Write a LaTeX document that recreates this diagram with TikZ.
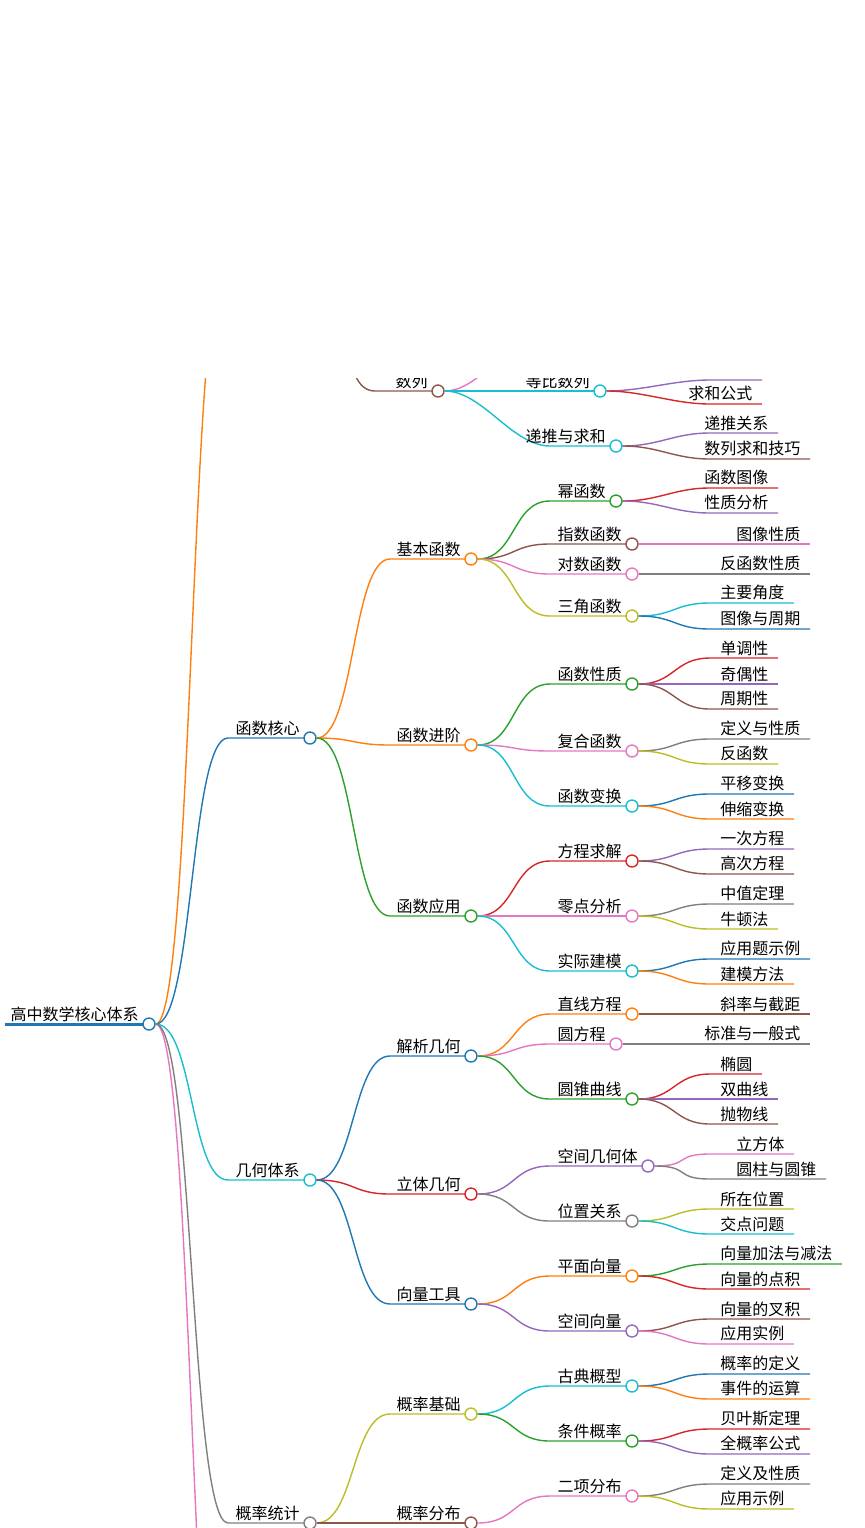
\documentclass[tikz,border=0pt]{standalone}
\usepackage{fontspec}
\setmainfont{Noto Sans CJK SC}
\usetikzlibrary{positioning}
\definecolor{cblue}{HTML}{1F77B4}
\definecolor{corange}{HTML}{FF7F0E}
\definecolor{cgreen}{HTML}{2CA02C}
\definecolor{cred}{HTML}{D62728}
\definecolor{cpurple}{HTML}{9467BD}
\definecolor{cbrown}{HTML}{8C564B}
\definecolor{cpink}{HTML}{E377C2}
\definecolor{cgray}{HTML}{7F7F7F}
\definecolor{colive}{HTML}{BCBD22}
\definecolor{ccyan}{HTML}{17BECF}
\tikzset{
  edge/.style={line width=0.7pt},
  dot/.style={circle,fill=white,line width=0.7pt,minimum size=6pt,inner sep=0pt},
  lbl/.style={anchor=south east,inner sep=1pt,font=\fontsize{8}{9}\selectfont}
}
% name, parent, line start x, y, circle x, colour, text
\newcommand{\mmnode}[7]{%
  \draw[edge,#6] (#2.east) .. controls +(38,0) and +(-38,0) .. (#3,#4) -- (#5,#4);
  \node[dot,draw=#6] (#1) at (#5,#4) {};
  \node[lbl] (#1-t) at (#5-8,#4) {#7};}
% parent, y, line end x, colour, text
\newcommand{\mmleaf}[5]{%
  \draw[edge,#4] (#1.east) .. controls +(36,0) and +(-36,0) .. (710,#2) -- (#3,#2)
    node[lbl,text=black,pos=1,xshift=-3.5pt] {#5};}
\begin{document}
\begin{tikzpicture}[x=0.5pt,y=-0.5pt]
\useasboundingbox (0,0) rectangle (864,1528);
\begin{scope}
\clip (0,378) rectangle (864,1528);
% root
\draw[cblue,line width=1.5pt] (5,1024) -- (149,1024);
\node[dot,draw=cblue] (root) at (149,1024) {};
\node[lbl] (root-t) at (141,1024) {高中数学核心体系};
% offscreen branches
\coordinate (top) at (228,250);
\draw[edge,corange] (root.east) .. controls +(38,0) and +(-38,0) .. (top) -- (310,250);
\node[dot,draw=corange] (alg) at (310,290) {};
\coordinate (down) at (228,1820);
\draw[edge,cpink] (root.east) .. controls +(38,0) and +(-38,0) .. (down);
% algebra remains
\mmnode{seq}{alg}{375}{391}{438}{cbrown}{数列}
\draw[edge,cpink] (seq.east) .. controls +(38,0) and +(-38,0) .. (550,330);
\mmnode{geo}{seq}{550}{391}{600}{ccyan}{等比数列}
\mmleaf{geo}{380}{762}{cpurple}{}
\mmleaf{geo}{404}{762}{cred}{求和公式}
\mmnode{rec}{seq}{550}{446}{616}{ccyan}{递推与求和}
\mmleaf{rec}{433}{778}{cpurple}{递推关系}
\mmleaf{rec}{459}{810}{cbrown}{数列求和技巧}
% functions
\mmnode{fun}{root}{228}{738}{310}{cblue}{函数核心}
\mmnode{basic}{fun}{390}{559}{471}{corange}{基本函数}
\mmnode{pow}{basic}{550}{501}{616}{cgreen}{幂函数}
\mmleaf{pow}{488}{778}{cred}{函数图像}
\mmleaf{pow}{513}{778}{cpurple}{性质分析}
\mmnode{expf}{basic}{550}{544}{632}{cbrown}{指数函数}
\mmleaf{expf}{544}{810}{cpink}{图像性质}
\mmnode{logf}{basic}{550}{574}{632}{cpink}{对数函数}
\mmleaf{logf}{574}{810}{cgray}{反函数性质}
\mmnode{trig}{basic}{550}{616}{632}{colive}{三角函数}
\mmleaf{trig}{603}{794}{ccyan}{主要角度}
\mmleaf{trig}{629}{810}{cblue}{图像与周期}
\mmnode{adv}{fun}{390}{745}{471}{corange}{函数进阶}
\mmnode{prop}{adv}{550}{684}{632}{cgreen}{函数性质}
\mmleaf{prop}{658}{778}{cred}{单调性}
\mmleaf{prop}{684}{778}{cpurple}{奇偶性}
\mmleaf{prop}{709}{778}{cbrown}{周期性}
\mmnode{comp}{adv}{550}{751}{632}{cpink}{复合函数}
\mmleaf{comp}{739}{810}{cgray}{定义与性质}
\mmleaf{comp}{764}{778}{colive}{反函数}
\mmnode{trans}{adv}{550}{806}{632}{ccyan}{函数变换}
\mmleaf{trans}{794}{794}{cblue}{平移变换}
\mmleaf{trans}{819}{794}{corange}{伸缩变换}
\mmnode{app}{fun}{390}{916}{471}{cgreen}{函数应用}
\mmnode{eq}{app}{550}{861}{632}{cred}{方程求解}
\mmleaf{eq}{849}{794}{cpurple}{一次方程}
\mmleaf{eq}{874}{794}{cbrown}{高次方程}
\mmnode{zero}{app}{550}{916}{632}{cpink}{零点分析}
\mmleaf{zero}{904}{794}{cgray}{中值定理}
\mmleaf{zero}{929}{778}{colive}{牛顿法}
\mmnode{model}{app}{550}{971}{632}{ccyan}{实际建模}
\mmleaf{model}{959}{810}{cblue}{应用题示例}
\mmleaf{model}{984}{794}{corange}{建模方法}
% geometry
\mmnode{geom}{root}{228}{1180}{310}{ccyan}{几何体系}
\mmnode{ana}{geom}{390}{1056}{471}{cblue}{解析几何}
\mmnode{line}{ana}{550}{1014}{632}{corange}{直线方程}
\mmleaf{line}{1014}{810}{cbrown}{斜率与截距}
\mmnode{circ}{ana}{550}{1044}{616}{cpink}{圆方程}
\mmleaf{circ}{1044}{810}{cgray}{标准与一般式}
\mmnode{conic}{ana}{550}{1099}{632}{cgreen}{圆锥曲线}
\mmleaf{conic}{1074}{762}{cred}{椭圆}
\mmleaf{conic}{1099}{778}{cpurple}{双曲线}
\mmleaf{conic}{1124}{778}{cbrown}{抛物线}
\mmnode{solid}{geom}{390}{1194}{471}{cred}{立体几何}
\mmnode{body}{solid}{550}{1166}{648}{cpurple}{空间几何体}
\mmleaf{body}{1154}{794}{cpink}{立方体}
\mmleaf{body}{1179}{826}{cgray}{圆柱与圆锥}
\mmnode{pos}{solid}{550}{1221}{632}{cgray}{位置关系}
\mmleaf{pos}{1209}{794}{colive}{所在位置}
\mmleaf{pos}{1234}{794}{ccyan}{交点问题}
\mmnode{vec}{geom}{390}{1304}{471}{cblue}{向量工具}
\mmnode{plane}{vec}{550}{1276}{632}{corange}{平面向量}
\mmleaf{plane}{1264}{842}{cgreen}{向量加法与减法}
\mmleaf{plane}{1289}{810}{cred}{向量的点积}
\mmnode{space}{vec}{550}{1331}{632}{cpurple}{空间向量}
\mmleaf{space}{1319}{810}{cbrown}{向量的叉积}
\mmleaf{space}{1344}{794}{cpink}{应用实例}
% probability
\mmnode{prob}{root}{228}{1523}{310}{cgray}{概率统计}
\mmnode{pbase}{prob}{390}{1414}{471}{colive}{概率基础}
\mmnode{classic}{pbase}{550}{1386}{632}{ccyan}{古典概型}
\mmleaf{classic}{1374}{810}{cblue}{概率的定义}
\mmleaf{classic}{1399}{810}{corange}{事件的运算}
\mmnode{cond}{pbase}{550}{1441}{632}{cgreen}{条件概率}
\mmleaf{cond}{1429}{810}{cred}{贝叶斯定理}
\mmleaf{cond}{1454}{810}{cpurple}{全概率公式}
\mmnode{dist}{prob}{390}{1523}{471}{cbrown}{概率分布}
\mmnode{binom}{dist}{550}{1496}{632}{cpink}{二项分布}
\mmleaf{binom}{1484}{810}{cgray}{定义及性质}
\mmleaf{binom}{1509}{794}{colive}{应用示例}
\end{scope}
\end{tikzpicture}
\end{document}
